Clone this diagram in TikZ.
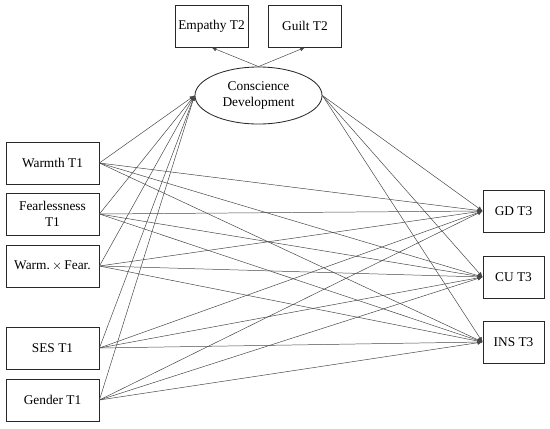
\documentclass[tikz,border=0pt]{standalone}
\usepackage{fontspec}
\setmainfont{Liberation Serif}
\usepackage{tikz}
\usetikzlibrary{arrows.meta,shapes.geometric}
\definecolor{edge}{RGB}{70,70,70}
\definecolor{frame}{RGB}{40,40,40}

\begin{document}
\begin{tikzpicture}[x=0.025cm,y=-0.025cm,
    varbox/.style={draw=frame,line width=0.6pt,minimum width=2.325cm,minimum height=1.05cm,
      inner sep=1pt,align=center,font=\fontsize{9.5}{11}\selectfont},
    outbox/.style={varbox,minimum width=1.525cm},
    topbox/.style={varbox,minimum width=1.825cm},
    latent/.style={draw=frame,line width=0.6pt,ellipse,minimum width=3.175cm,minimum height=1.425cm,
      inner sep=0pt,align=center,font=\fontsize{9.5}{11}\selectfont},
    path/.style={draw=edge,line width=0.35pt,-{Latex[length=3.5pt,width=3pt]}}]
    \useasboundingbox (0,0) rectangle (550,428);
    % Indicators of conscience
    \node[topbox] (emp) at (211.5,26) {Empathy T2};
    \node[topbox] (guilt) at (305,26) {Guilt T2};
    \node[latent] (cons) at (258.5,95.5) {Conscience\\Development};
    % Predictors at T1
    \node[varbox] (warm) at (52.5,163) {Warmth T1};
    \node[varbox] (fear) at (52.5,214) {Fearlessness\\T1};
    \node[varbox] (inter) at (52.5,266) {Warm.\,$\times$\,Fear.};
    \node[varbox] (ses) at (52.5,348) {SES T1};
    \node[varbox] (gender) at (52.5,400) {Gender T1};
    % Outcomes at T3
    \node[outbox] (gd) at (513.5,211) {GD T3};
    \node[outbox] (cu) at (513.5,277) {CU T3};
    \node[outbox] (ins) at (513.5,342) {INS T3};
    % Measurement paths
    \draw[path] (cons.north) -- (emp.south);
    \draw[path] (cons.north) -- (guilt.south);
    % Predictors -> conscience
    \draw[path] (warm.east) -- (cons.west);
    \draw[path] (fear.east) -- (cons.west);
    \draw[path] (inter.east) -- (cons.west);
    \draw[path] (ses.east) -- (cons.west);
    \draw[path] (gender.east) -- (cons.west);
    % Conscience -> outcomes
    \draw[path] (cons.east) -- (gd.west);
    \draw[path] (cons.east) -- (cu.west);
    \draw[path] (cons.east) -- (ins.west);
    % Predictors -> outcomes
    \draw[path] (warm.east) -- (gd.west);
    \draw[path] (warm.east) -- (cu.west);
    \draw[path] (warm.east) -- (ins.west);
    \draw[path] (fear.east) -- (gd.west);
    \draw[path] (fear.east) -- (cu.west);
    \draw[path] (fear.east) -- (ins.west);
    \draw[path] (inter.east) -- (gd.west);
    \draw[path] (inter.east) -- (cu.west);
    \draw[path] (inter.east) -- (ins.west);
    \draw[path] (ses.east) -- (gd.west);
    \draw[path] (ses.east) -- (cu.west);
    \draw[path] (ses.east) -- (ins.west);
    \draw[path] (gender.east) -- (gd.west);
    \draw[path] (gender.east) -- (cu.west);
    \draw[path] (gender.east) -- (ins.west);
  \end{tikzpicture}
\end{document}
